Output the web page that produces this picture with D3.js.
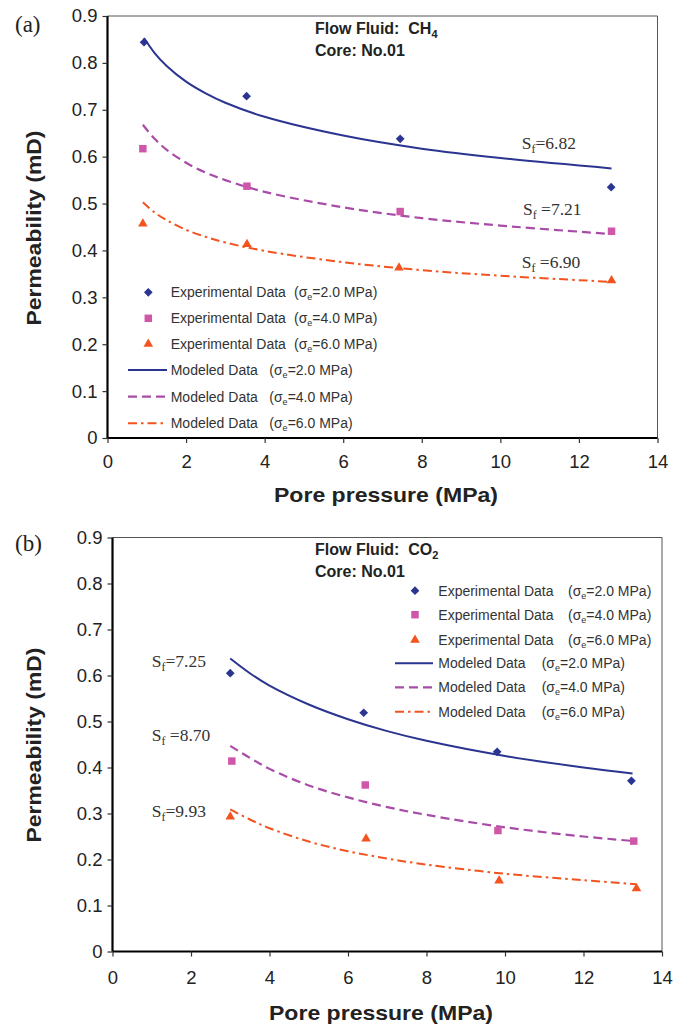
<!DOCTYPE html>
<html><head><meta charset="utf-8">
<script src="https://cdn.jsdelivr.net/npm/d3@7"></script>
<style>body{margin:0;background:#fff} svg{display:block} text{white-space:pre}</style>
</head><body><svg id="c" width="685" height="1028"></svg>
<script>
// ---------- data ----------
const pressureTicks = [0, 2, 4, 6, 8, 10, 12, 14];
const permTicks = [0, 0.1, 0.2, 0.3, 0.4, 0.5, 0.6, 0.7, 0.8, 0.9];
const stressLabels = ["2.0", "4.0", "6.0"];

// Panel (a): CH4
const aExpP2 = [0.93, 3.54, 7.45, 12.82];
const aExpK2 = [0.844, 0.729, 0.638, 0.535];
const aExpP4 = [0.90, 3.55, 7.45, 12.83];
const aExpK4 = [0.617, 0.537, 0.483, 0.441];
const aExpP6 = [0.90, 3.55, 7.42, 12.83];
const aExpK6 = [0.457, 0.413, 0.363, 0.336];
const aModP2 = [0.93, 1.2, 1.5, 2, 2.5, 3, 4, 6, 8, 10, 12.83];
const aModK2 = [0.853, 0.821, 0.794, 0.760, 0.735, 0.715, 0.685, 0.645, 0.617, 0.597, 0.575];
const aModP4 = [0.90, 1.2, 1.5, 2, 2.5, 3, 4, 6, 8, 10, 12.83];
const aModK4 = [0.668, 0.638, 0.615, 0.587, 0.566, 0.550, 0.525, 0.492, 0.469, 0.453, 0.435];
const aModP6 = [0.90, 1.2, 1.5, 2, 2.5, 3, 4, 6, 8, 10, 12.83];
const aModK6 = [0.503, 0.481, 0.465, 0.444, 0.429, 0.417, 0.399, 0.375, 0.358, 0.346, 0.333];
const aSf = ["=6.82", " =7.21", " =6.90"];

// Panel (b): CO2
const bExpP2 = [3.00, 6.40, 9.80, 13.22];
const bExpK2 = [0.605, 0.519, 0.434, 0.371];
const bExpP4 = [3.04, 6.44, 9.82, 13.28];
const bExpK4 = [0.414, 0.362, 0.263, 0.240];
const bExpP6 = [3.00, 6.46, 9.85, 13.35];
const bExpK6 = [0.293, 0.245, 0.154, 0.137];
const bModP2 = [3.0, 3.5, 4, 5, 6, 7, 8, 10, 12, 13.25];
const bModK2 = [0.637, 0.605, 0.578, 0.537, 0.505, 0.479, 0.458, 0.425, 0.400, 0.387];
const bModP4 = [3.0, 3.5, 4, 5, 6, 7, 8, 10, 12, 13.3];
const bModK4 = [0.447, 0.421, 0.397, 0.361, 0.335, 0.314, 0.297, 0.270, 0.250, 0.240];
const bModP6 = [3.0, 3.5, 4, 5, 6, 7, 8, 10, 12, 13.35];
const bModK6 = [0.309, 0.287, 0.268, 0.239, 0.218, 0.202, 0.189, 0.169, 0.155, 0.146];
const bSf = ["=7.25", " =8.70", "=9.93"];

// ---------- styles ----------
const colBlue = "#2b3591", colSq = "#cf57a9", colDash = "#a94ca8", colOr = "#f2531f";
const sans = "'Liberation Sans', Arial, sans-serif";
const serif = "'Liberation Serif', 'Times New Roman', serif";
const svg = d3.select("#c");

function zip(a, b) { return a.map((v, i) => [v, b[i]]); }

function rich(g, x, y, parts, attrs) {
  const t = g.append("text").attr("x", x).attr("y", y);
  Object.entries(attrs || {}).forEach(([k, v]) => t.attr(k, v));
  let pending = 0;
  parts.forEach(p => {
    if (typeof p === "string") {
      const s = t.append("tspan").text(p);
      if (pending) { s.attr("dy", pending); pending = 0; }
    } else {
      t.append("tspan").attr("dy", p.dy).attr("font-size", p.fs).text(p.s);
      pending = -p.dy;
    }
  });
  return t;
}

function panel(cfg) {
  const g = svg.append("g");
  const x = d3.scaleLinear().domain([0, 14]).range([cfg.x0, cfg.x1]);
  const y = d3.scaleLinear().domain([0, 0.9]).range([cfg.y0, cfg.y1]);

  // frame (thin top/right)
  g.append("line").attr("x1", cfg.x0).attr("x2", cfg.x1).attr("y1", cfg.y1).attr("y2", cfg.y1)
    .attr("stroke", "#555").attr("stroke-width", 1);
  g.append("line").attr("x1", cfg.x1).attr("x2", cfg.x1).attr("y1", cfg.y1).attr("y2", cfg.y0)
    .attr("stroke", "#555").attr("stroke-width", 1);

  const xa = g.append("g").attr("transform", `translate(0,${cfg.y0})`)
    .call(d3.axisBottom(x).tickValues(pressureTicks).tickSize(5).tickPadding(cfg.xpad).tickFormat(d3.format("d")));
  const ya = g.append("g").attr("transform", `translate(${cfg.x0},0)`)
    .call(d3.axisLeft(y).tickValues(permTicks).tickSize(5).tickPadding(5).tickFormat(d => d === 0 ? "0" : d3.format(".1f")(d)));
  [xa, ya].forEach(a => {
    a.select(".domain").attr("stroke", "#000").attr("stroke-width", 2.2);
    a.selectAll(".tick line").attr("stroke", "#333").attr("stroke-width", 1.2);
    a.selectAll(".tick text").attr("font-family", sans).attr("font-size", 18.5).attr("fill", "#222");
  });
  xa.select(".domain").attr("d", `M${cfg.x0},0H${cfg.x1}`);
  ya.select(".domain").attr("d", `M0,${cfg.y0}V${cfg.y1}`);

  // model curves
  const line = d3.line().x(d => x(d[0])).y(d => y(d[1])).curve(d3.curveCatmullRom.alpha(0.5));
  const mods = [
    [cfg.mod[0], colBlue, null, 2],
    [cfg.mod[1], colDash, "9,5", 2.2],
    [cfg.mod[2], colOr, "9,4,2.5,4", 2]
  ];
  mods.forEach(([d, c, da, w]) => g.append("path").attr("d", line(d)).attr("fill", "none")
    .attr("stroke", c).attr("stroke-width", w).attr("stroke-dasharray", da));

  // experimental markers
  const sym = [
    { t: d3.symbolSquare, s: 38, c: colBlue, r: 45 },
    { t: d3.symbolSquare, s: 56, c: colSq, r: 0 },
    { t: d3.symbolTriangle, s: 40, c: colOr, r: 0 }
  ];
  cfg.exp.forEach((d, i) => {
    g.selectAll(null).data(d).join("path")
      .attr("d", d3.symbol().type(sym[i].t).size(sym[i].s))
      .attr("transform", p => `translate(${x(p[0])},${y(p[1])}) rotate(${sym[i].r})`)
      .attr("fill", sym[i].c);
  });

  // legend
  const L = cfg.leg;
  for (let i = 0; i < 3; i++) {
    const ry = L.rows[i];
    g.append("path").attr("d", d3.symbol().type(sym[i].t).size(sym[i].s))
      .attr("transform", `translate(${L.mx},${ry}) rotate(${sym[i].r})`).attr("fill", sym[i].c);
    g.append("text").attr("x", L.tx).attr("y", ry + 5).attr("font-family", sans).attr("font-size", 14)
      .attr("fill", "#333").text("Experimental Data");
    rich(g, L.sx1, ry + 5, ["(σ", { s: "e", dy: 3, fs: 9 }, "=" + stressLabels[i] + " MPa)"],
      { "font-family": sans, "font-size": 14, fill: "#333" });
  }
  for (let i = 0; i < 3; i++) {
    const ry = L.rows[i + 3];
    g.append("line").attr("x1", L.l0).attr("x2", L.l1).attr("y1", ry).attr("y2", ry)
      .attr("stroke", mods[i][1]).attr("stroke-width", mods[i][3]).attr("stroke-dasharray", mods[i][2]);
    g.append("text").attr("x", L.tx).attr("y", ry + 5).attr("font-family", sans).attr("font-size", 14)
      .attr("fill", "#333").text("Modeled Data");
    rich(g, L.sx2, ry + 5, ["(σ", { s: "e", dy: 3, fs: 9 }, "=" + stressLabels[i] + " MPa)"],
      { "font-family": sans, "font-size": 14, fill: "#333" });
  }

  // Sf labels
  cfg.sf.forEach((s, i) => {
    rich(g, cfg.sfPos[i][0], cfg.sfPos[i][1], ["S", { s: "f", dy: 4, fs: 12 }, s],
      { "font-family": serif, "font-size": 17.5, fill: "#333" });
  });

  // title block
  rich(g, cfg.tx, cfg.ty, ["Flow Fluid:  " + cfg.gas[0], { s: cfg.gas[1], dy: 4, fs: 11 }],
    { "font-family": sans, "font-size": 16, "font-weight": "bold", fill: "#222" });
  g.append("text").attr("x", cfg.tx).attr("y", cfg.ty + 22).attr("font-family", sans).attr("font-size", 16)
    .attr("font-weight", "bold").attr("fill", "#222").text("Core: No.01");

  // axis titles
  g.append("text").attr("x", cfg.xtx).attr("y", cfg.xty).attr("text-anchor", "middle")
    .attr("font-family", sans).attr("font-size", 21).attr("font-weight", "bold").attr("fill", "#222")
    .attr("textLength", 224).attr("lengthAdjust", "spacingAndGlyphs").text("Pore pressure (MPa)");
  g.append("text").attr("transform", `translate(${cfg.ytx},${cfg.yty}) rotate(-90)`).attr("text-anchor", "middle")
    .attr("font-family", sans).attr("font-size", 21).attr("font-weight", "bold").attr("fill", "#222")
    .attr("textLength", 195).attr("lengthAdjust", "spacingAndGlyphs").text("Permeability (mD)");

  // panel tag
  g.append("text").attr("x", 15).attr("y", cfg.tagY).attr("font-family", serif).attr("font-size", 23)
    .attr("fill", "#222").text(cfg.tag);
}

panel({
  x0: 107.5, x1: 657.5, y0: 438, y1: 16, xpad: 12,
  mod: [zip(aModP2, aModK2), zip(aModP4, aModK4), zip(aModP6, aModK6)],
  exp: [zip(aExpP2, aExpK2), zip(aExpP4, aExpK4), zip(aExpP6, aExpK6)],
  leg: { rows: [292.3, 318.3, 344, 370, 396.7, 423.3], mx: 148.3, tx: 170.7, sx1: 294, sx2: 269.3, l0: 128, l1: 167 },
  sf: aSf, sfPos: [[521.7, 148.5], [523, 215], [521.7, 267.5]],
  gas: ["CH", "4"], tx: 315, ty: 33.5,
  xtx: 386, xty: 501.5, ytx: 40.5, yty: 228,
  tag: "(a)", tagY: 32
});

panel({
  x0: 112.5, x1: 662, y0: 951.5, y1: 537.5, xpad: 14,
  mod: [zip(bModP2, bModK2), zip(bModP4, bModK4), zip(bModP6, bModK6)],
  exp: [zip(bExpP2, bExpK2), zip(bExpP4, bExpK4), zip(bExpP6, bExpK6)],
  leg: { rows: [590.7, 614.7, 640, 663.3, 687.3, 711.7], mx: 415, tx: 438.3, sx1: 568, sx2: 541.7, l0: 395, l1: 433 },
  sf: bSf, sfPos: [[151.7, 666.7], [151.7, 740.7], [151.7, 816.7]],
  gas: ["CO", "2"], tx: 315, ty: 555,
  xtx: 381, xty: 1019.5, ytx: 40.5, yty: 745,
  tag: "(b)", tagY: 551
});
</script>
</body></html>
